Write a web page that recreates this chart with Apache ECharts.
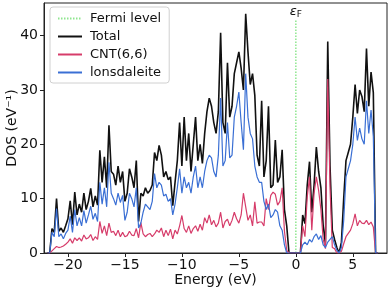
<!DOCTYPE html>
<html><head><meta charset="utf-8">
<script src="https://cdn.jsdelivr.net/npm/echarts@6/dist/echarts.min.js"></script>
<style>html,body{margin:0;padding:0;background:#fff}#c{width:390px;height:291px}</style>
</head><body><div id="c"></div>
<script>
const energy = [-21.8,-21.6,-21.4,-21.2,-21.0,-20.8,-20.6,-20.4,-20.2,-20.0,
-19.8,-19.6,-19.4,-19.2,-19.0,-18.8,-18.6,-18.4,-18.2,-18.0,
-17.8,-17.6,-17.4,-17.2,-17.0,-16.8,-16.6,-16.4,-16.2,-16.0,
-15.8,-15.6,-15.4,-15.2,-15.0,-14.8,-14.6,-14.4,-14.2,-14.0,
-13.8,-13.6,-13.4,-13.2,-13.0,-12.8,-12.6,-12.4,-12.2,-12.0,
-11.8,-11.6,-11.4,-11.2,-11.0,-10.8,-10.6,-10.4,-10.2,-10.0,
-9.8,-9.6,-9.4,-9.2,-9.0,-8.8,-8.6,-8.4,-8.2,-8.0,
-7.8,-7.6,-7.4,-7.2,-7.0,-6.8,-6.6,-6.4,-6.2,-6.0,
-5.8,-5.6,-5.4,-5.2,-5.0,-4.8,-4.6,-4.4,-4.2,-4.0,
-3.8,-3.6,-3.4,-3.2,-3.0,-2.8,-2.6,-2.4,-2.2,-2.0,
-1.8,-1.6,-1.4,-1.2,-1.0,-0.8,-0.6,-0.4,-0.2,0.0,
0.2,0.4,0.6,0.8,1.0,1.2,1.4,1.6,1.8,2.0,
2.2,2.4,2.6,2.8,3.0,3.2,3.4,3.6,3.8,4.0,
4.2,4.4,4.6,4.8,5.0,5.2,5.4,5.6,5.8,6.0,
6.2,6.4,6.6,6.8,7.0,7.2];
const total = [0,0,4.5,3.8,10.0,4.0,4.6,3.8,5.0,6.3,
9.6,5.2,11.2,7.0,9.0,7.5,11.0,8.0,9.5,11.9,
8.5,10.5,8.8,18.9,13.0,17.7,12.0,23.5,15.0,14.5,
12.5,16.0,13.0,15.0,9.5,11.0,15.5,14.0,12.0,17.0,
5.8,11.0,10.5,12.0,11.0,11.5,12.5,18.5,17.0,19.8,
18.0,14.0,15.0,13.5,14.0,8.7,13.0,17.0,24.0,16.0,
25.0,17.0,22.0,15.0,20.0,25.0,17.0,20.0,16.5,22.0,
26.0,28.5,27.0,24.0,22.0,26.0,40.5,24.0,22.0,35.0,
25.0,27.0,33.0,35.0,37.0,34.0,30.0,44.0,37.0,31.0,
33.0,29.0,18.0,16.0,28.0,14.0,17.0,27.0,12.0,12.5,
20.8,13.0,14.0,19.0,8.0,5.0,0,0,0,0,
0,0,7.0,5.4,12.5,16.8,7.5,12.5,19.5,15.0,
12.0,5.0,1.7,38.9,16.0,4.2,2.5,1.0,0,2.0,
10.0,17.0,18.5,20.0,25.0,31.0,25.7,30.0,28.8,26.0,
37.6,27.0,33.3,29.5,0,0];
const cnt = [0,0,0.4,0.8,1.2,1.0,1.1,1.3,1.6,2.0,
2.6,1.8,2.8,2.3,2.8,2.2,3.3,2.6,2.8,3.4,
2.3,3.0,2.5,5.8,3.6,5.0,3.2,5.5,3.8,4.0,
3.2,4.2,3.0,3.8,3.0,3.2,4.0,3.3,3.2,4.5,
2.8,5.6,3.5,3.0,3.4,3.6,3.0,3.5,4.2,3.8,
4.6,3.0,4.2,3.2,4.4,2.6,4.2,3.5,5.0,6.9,
4.5,3.8,5.0,3.6,4.5,5.0,4.0,5.3,4.2,6.5,
5.5,7.0,5.2,6.0,4.8,5.5,7.5,4.6,5.8,6.2,
5.0,6.0,7.5,6.3,5.5,7.0,11.0,8.5,6.0,7.0,
5.0,9.4,5.5,5.7,5.7,5.0,10.0,8.0,10.6,11.2,
10.8,8.8,9.5,12.0,4.0,0.5,0,0,0,0,
0,0,5.0,3.0,10.3,14.0,4.2,11.0,14.0,11.5,
8.0,2.5,0.8,32.0,12.0,1.0,0.8,0,0,0.3,
1.7,3.0,3.6,4.2,5.4,7.2,5.0,6.0,5.5,5.4,
6.0,5.2,5.7,4.8,0,0];
const lonsdaleite = [0,0,3.8,3.0,8.2,3.0,3.5,2.6,3.6,4.2,
6.8,3.8,8.0,5.0,6.5,5.0,7.8,5.5,7.0,8.6,
6.2,7.3,5.8,13.0,9.0,12.0,8.5,16.7,11.0,10.0,
8.8,11.0,9.3,10.6,6.0,7.5,11.0,10.0,8.5,12.0,
4.6,5.5,7.5,9.0,8.5,8.0,9.5,14.6,12.0,13.0,
12.5,10.5,10.8,9.5,10.0,7.0,9.0,12.0,15.5,11.0,
14.0,12.0,13.0,11.0,14.0,16.0,12.0,14.0,12.0,15.0,
17.0,18.0,17.5,15.0,14.0,18.0,28.5,16.0,17.0,24.0,
17.5,18.0,25.0,27.0,29.6,24.0,19.0,33.0,25.0,22.0,
21.0,16.0,14.0,13.0,13.0,9.5,8.0,9.0,6.5,7.0,
8.0,7.5,5.0,4.2,1.5,0,0,0,0,0,
0,0,1.5,2.0,1.5,2.5,2.0,3.0,3.5,2.5,
3.2,1.5,1.0,2.0,2.5,3.0,1.5,0.5,0,1.0,
6.0,14.0,15.5,17.0,20.0,25.0,20.7,23.0,21.0,20.0,
28.0,22.0,26.3,21.4,0,0];
const fermiE = [0, 0];
const fermiDOS = [0, 42.9];
const xTicks = [-20, -15, -10, -5, 0, 5];
const yTicks = [0, 10, 20, 30, 40];

const pair = (xs, ys) => xs.map((x, i) => [x, ys[i]]);
const FONT = 'DejaVu Sans';
const chart = echarts.init(document.getElementById('c'), null, {renderer: 'canvas'});
chart.setOption({
  animation: false,
  textStyle: {fontFamily: FONT},
  grid: {left: 44, right: 3, top: 3, bottom: 38, containLabel: false, outerBoundsMode: 'none',
         show: true, borderColor: '#222', borderWidth: 1, backgroundColor: 'transparent'},
  legend: {
    orient: 'vertical', left: 50, top: 7, itemWidth: 24, itemHeight: 10, itemGap: 5,
    padding: [5, 8, 4, 7],
    backgroundColor: 'rgba(255,255,255,0.85)', borderColor: '#d0d0d0', borderWidth: 1, borderRadius: 3,
    itemStyle: {opacity: 0},
    textStyle: {fontFamily: FONT, fontSize: 13, color: '#111', padding: [0, 0, 0, 3]},
    data: ['Fermi level', 'Total', 'CNT(6,6)', 'lonsdaleite']
  },
  xAxis: {
    type: 'value', min: -22.1, max: 8,
    name: 'Energy (eV)', nameLocation: 'middle', nameGap: 20, nameMoveOverlap: false,
    nameTextStyle: {fontFamily: FONT, fontSize: 14, color: '#111'},
    axisLine: {onZero: false, lineStyle: {color: '#222', width: 1}},
    axisTick: {show: true, length: 4, customValues: xTicks, lineStyle: {color: '#222'}},
    axisLabel: {customValues: xTicks, fontFamily: FONT, fontSize: 14, color: '#111', margin: 5,
      formatter: v => (v < 0 ? '\u2212' + Math.abs(v) : String(v))},
    splitLine: {show: false}
  },
  yAxis: {
    type: 'value', min: 0, max: 46,
    name: 'DOS (eV\u207B\u00B9)', nameLocation: 'middle', nameGap: 25, nameMoveOverlap: false,
    nameTextStyle: {fontFamily: FONT, fontSize: 14, color: '#111'},
    axisLine: {show: true, onZero: false, lineStyle: {color: '#222', width: 1}},
    axisTick: {show: true, length: 4, customValues: yTicks, lineStyle: {color: '#222'}},
    axisLabel: {customValues: yTicks, fontFamily: FONT, fontSize: 14, color: '#111', margin: 6},
    splitLine: {show: false}
  },
  series: [
    {name: 'Fermi level', type: 'line', symbol: 'none', data: pair(fermiE, fermiDOS),
     lineStyle: {color: '#8fe68f', width: 1.5, type: [1.5, 1.5]}, itemStyle: {color: '#8fe68f'},
     markPoint: {symbol: 'circle', symbolSize: 0, silent: true,
       data: [{coord: [fermiE[1], fermiDOS[1]]}],
       label: {show: true, position: 'top', distance: 1, formatter: '{e|\u03B5}{s|F}',
         rich: {e: {fontFamily: FONT, fontSize: 13, fontStyle: 'italic', color: '#111'},
                s: {fontFamily: FONT, fontSize: 9, color: '#111', verticalAlign: 'bottom', padding: [6, 0, 0, 0]}}}}},
    {name: 'Total', type: 'line', symbol: 'none', data: pair(energy, total),
     lineStyle: {color: '#111111', width: 1.6}, itemStyle: {color: '#111111'}},
    {name: 'CNT(6,6)', type: 'line', symbol: 'none', data: pair(energy, cnt),
     lineStyle: {color: '#d63c6a', width: 1.2}, itemStyle: {color: '#d63c6a'}},
    {name: 'lonsdaleite', type: 'line', symbol: 'none', data: pair(energy, lonsdaleite),
     lineStyle: {color: '#3a6fd4', width: 1.2}, itemStyle: {color: '#3a6fd4'}}
  ]
});
</script></body></html>
